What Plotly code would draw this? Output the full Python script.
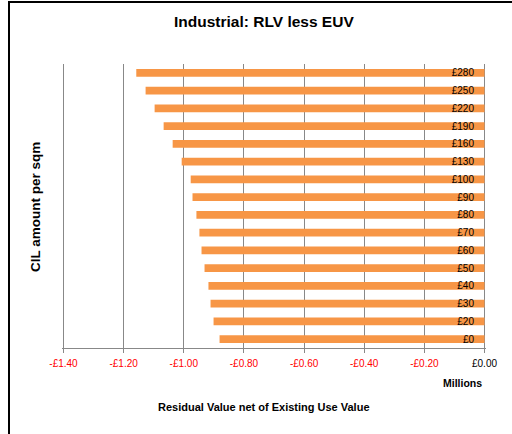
import plotly.graph_objects as go

categories = ["£0", "£20", "£30", "£40", "£50", "£60", "£70", "£80", "£90",
              "£100", "£130", "£160", "£190", "£220", "£250", "£280"]
values = [-0.881, -0.901, -0.911, -0.918, -0.931, -0.941, -0.948, -0.958, -0.971,
          -0.977, -1.007, -1.037, -1.067, -1.097, -1.127, -1.158]
x_tickvals = [-1.4, -1.2, -1.0, -0.8, -0.6, -0.4, -0.2, 0.0]
x_ticktext = ["-£1.40", "-£1.20", "-£1.00", "-£0.80", "-£0.60", "-£0.40", "-£0.20",
              '<span style="color:black">£0.00</span>']

W, H = 512, 434
L, R, T, B = 62, 26, 64, 86
pw, ph = W - L - R, H - T - B

def px(x):
    return (x - L) / pw

def py(y):
    return (H - B - y) / ph

n = len(categories)
boundaries = [i - 0.5 for i in range(n + 1)]

fig = go.Figure(go.Bar(
    x=values, y=categories, orientation="h",
    marker=dict(color="#F79646", line=dict(width=0)),
))

font = "Liberation Sans, Arial, sans-serif"
fig.update_layout(
    width=W, height=H,
    margin=dict(l=L, r=R, t=T, b=B),
    paper_bgcolor="white", plot_bgcolor="white",
    bargap=0.55, showlegend=False,
    font=dict(family=font, color="black"),
    xaxis=dict(
        range=[-1.405, 0.005], tickvals=x_tickvals, ticktext=x_ticktext,
        tickfont=dict(size=10, color="#FF0000", family=font),
        showgrid=True, gridcolor="#888888", gridwidth=1,
        showline=True, linecolor="#888888", linewidth=1,
        ticks="outside", ticklen=4, tickcolor="#888888", ticklabelstandoff=2,
        zeroline=False, fixedrange=True,
    ),
    yaxis=dict(
        type="category", categoryorder="array", categoryarray=categories,
        range=[-0.5, n - 0.5],
        anchor="free", position=px(474), side="left",
        ticks="", ticklabelstandoff=0,
        tickfont=dict(size=10, color="black", family=font),
        showline=False, showgrid=False, zeroline=False, fixedrange=True,
    ),
    yaxis2=dict(
        overlaying="y", anchor="x", side="right",
        range=[-0.5, n - 0.5], tickvals=boundaries, showticklabels=False,
        ticks="inside", ticklen=3, tickcolor="#888888",
        showline=False, showgrid=False, zeroline=False, fixedrange=True,
    ),
    annotations=[
        dict(text="<b>Industrial: RLV less EUV</b>", x=px(264), y=py(22),
             xref="paper", yref="paper", showarrow=False,
             font=dict(size=15.5, family=font), xanchor="center", yanchor="middle"),
        dict(text="<b>CIL amount per sqm</b>", x=px(35), y=py(207),
             xref="paper", yref="paper", showarrow=False, textangle=-90,
             font=dict(size=13.5, family=font), xanchor="center", yanchor="middle"),
        dict(text="<b>Millions</b>", x=px(484), y=py(383),
             xref="paper", yref="paper", showarrow=False,
             font=dict(size=10.5, family=font), xanchor="right", yanchor="middle"),
        dict(text="<b>Residual Value net of Existing Use Value</b>", x=px(264), y=py(407),
             xref="paper", yref="paper", showarrow=False,
             font=dict(size=11, family=font), xanchor="center", yanchor="middle"),
    ],
    shapes=[
        dict(type="line", xref="paper", yref="paper", x0=px(9), x1=px(9),
             y0=py(2), y1=py(H + 2), line=dict(color="black", width=2)),
        dict(type="line", xref="paper", yref="paper", x0=px(8), x1=px(W + 2),
             y0=py(2), y1=py(2), line=dict(color="black", width=2)),
    ],
)

fig.write_html("out.html")
